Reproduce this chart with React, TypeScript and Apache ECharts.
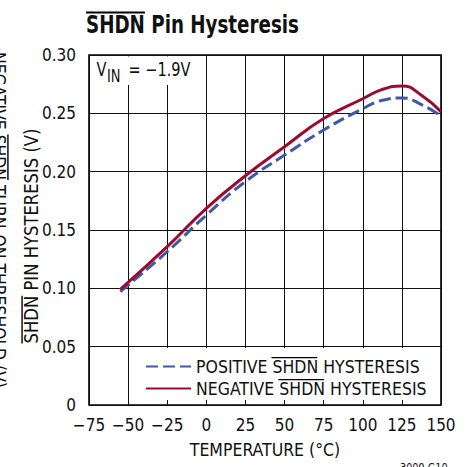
import React, { useEffect, useRef } from "react";
import * as echarts from "echarts";

const temps = [-55, -25, 0, 25, 50, 75, 100, 112.5, 125, 137.5, 150];
const negativeHyst = [0.0991, 0.1357, 0.1686, 0.1965, 0.2214, 0.2455, 0.2625, 0.2705, 0.2735, 0.2655, 0.2513];
const positiveHyst = [0.0971, 0.1314, 0.1628, 0.1915, 0.2142, 0.2357, 0.254, 0.2612, 0.2632, 0.2575, 0.2476];
const seriesNames = ["POSITIVE SHDN HYSTERESIS", "NEGATIVE SHDN HYSTERESIS"];
const xTicks = { min: -75, max: 150, interval: 25 };
const yTicks = { min: 0, max: 0.3, interval: 0.05 };

const FONT = "'DejaVu Sans Condensed', 'Liberation Sans Narrow', sans-serif";

function measure(text: string, size: number, weight = "normal") {
  const c = document.createElement("canvas").getContext("2d")!;
  c.font = `${weight} ${size}px ${FONT}`;
  return c.measureText(text).width;
}

export default function App() {
  const ref = useRef<HTMLDivElement>(null);
  useEffect(() => {
    if (!ref.current) return;
    const chart = echarts.init(ref.current, undefined, { renderer: "svg" });
    const FS = 17;
    const LFS = 17.5;
    const GFS = 19;
    const gcap = GFS * 0.729;
    const lcap = LFS * 0.729;
    const GL = 89, GT = 55, GR = 441, GB = 405;

    // title
    const titleFS = 25;
    const titleX = 86, titleY = 24;
    const titleScale = 213 / measure("SHDN Pin Hysteresis", titleFS, "bold");
    const wTitleS = measure("SHDN", titleFS, "bold") * titleScale;

    // legend
    const legLeft = 145, legTop = 355.5, rowH = 22;
    const textX = legLeft + 45 + 5;
    const row1 = legTop + rowH / 2, row2 = row1 + rowH;
    const wPos = measure("POSITIVE ", LFS), wNeg = measure("NEGATIVE ", LFS), wS = measure("SHDN", LFS);

    // inner y title
    const yTitle = "SHDN PIN HYSTERESIS (V)";
    const yTitleX = 31.5, yTitleY = 236;
    const yScale = 215 / measure(yTitle, GFS);
    const wYT = measure(yTitle, GFS) * yScale;
    const yStart = yTitleY + wYT / 2;
    const wYS = measure("SHDN", GFS) * yScale;

    // outer cut text
    const outer = "NEGATIVE SHDN TURN-ON THRESHOLD (V)";
    const outerX = -1.5, outerY = 220;
    const oScale = 336 / measure(outer, GFS);
    const wOut = measure(outer, GFS) * oScale;
    const outStart = outerY - wOut / 2;
    const wON = measure("NEGATIVE ", GFS) * oScale;
    const wOS = measure("SHDN", GFS) * oScale;

    const vScale = 0.85;

    const ol = (x1: number, y1: number, x2: number, y2: number, w = 1.4) => ({
      type: "line",
      shape: { x1, y1, x2, y2 },
      style: { stroke: "#000", lineWidth: w },
      z: 10,
    });

    chart.setOption({
      animation: false,
      backgroundColor: "#fff",
      textStyle: { fontFamily: FONT },
      grid: {
        left: GL, top: GT, right: 469 - GR, bottom: 467 - GB,
        show: true, borderColor: "#000", borderWidth: 1.6, backgroundColor: "transparent",
      },
      xAxis: {
        type: "value",
        min: xTicks.min, max: xTicks.max, interval: xTicks.interval,
        name: "TEMPERATURE (°C)",
        nameLocation: "middle",
        nameGap: 36,
        nameTextStyle: { fontSize: LFS, color: "#111", fontFamily: FONT },
        axisLine: { show: false },
        axisTick: { show: false },
        axisLabel: {
          fontSize: FS, color: "#111", margin: 11, fontFamily: FONT,
          formatter: (v: number) => (v < 0 ? "\u2212" + Math.abs(v) : String(v)),
        },
        splitLine: { show: true, lineStyle: { color: "#111", width: 1 } },
      },
      yAxis: {
        type: "value",
        min: yTicks.min, max: yTicks.max, interval: yTicks.interval,
        axisLine: { show: false },
        axisTick: { show: false },
        axisLabel: {
          fontSize: FS, color: "#111", margin: 13, fontFamily: FONT,
          formatter: (v: number) => (v === 0 ? "0" : v.toFixed(2)),
        },
        splitLine: { show: true, lineStyle: { color: "#111", width: 1 } },
      },
      legend: {
        orient: "vertical",
        left: legLeft, top: legTop,
        padding: 0,
        itemGap: 0,
        itemWidth: 45, itemHeight: 14,
        itemStyle: { opacity: 0 },
        textStyle: { fontSize: LFS, color: "#111", lineHeight: rowH, fontFamily: FONT },
        data: seriesNames,
        z: 20,
      },
      graphic: [
        { type: "rect", shape: { x: 90, y: 56.5, width: 100, height: 28.5 }, style: { fill: "#fff" }, z: 1 },
        { type: "rect", shape: { x: 135, y: 348, width: 304.5, height: 52 }, style: { fill: "#fff" }, z: 1 },
        { type: "text", x: 96.5, y: 69.5, scaleX: vScale, style: { text: "V", fontSize: GFS, fontFamily: FONT, fill: "#111", verticalAlign: "middle", align: "left" }, z: 10 },
        { type: "text", x: 107, y: 76, scaleX: vScale, style: { text: "IN", fontSize: 17, fontFamily: FONT, fill: "#111", verticalAlign: "middle", align: "left" }, z: 10 },
        { type: "text", x: 128.5, y: 69.5, scaleX: vScale, style: { text: "= \u22121.9V", fontSize: GFS, fontFamily: FONT, fill: "#111", verticalAlign: "middle", align: "left" }, z: 10 },
        { type: "text", x: titleX, y: titleY, scaleX: titleScale, style: { text: "SHDN Pin Hysteresis", fontSize: titleFS, fontWeight: "bold", fontFamily: FONT, fill: "#111", verticalAlign: "middle", align: "left" }, z: 10 },
        ol(titleX, 12.5, titleX + wTitleS, 12.5, 2),
        ol(textX + wPos, row1 - lcap / 2 - 2.5, textX + wPos + wS, row1 - lcap / 2 - 2.5),
        ol(textX + wNeg, row2 - lcap / 2 - 2.5, textX + wNeg + wS, row2 - lcap / 2 - 2.5),
        { type: "text", x: yTitleX, y: yTitleY, rotation: Math.PI / 2, scaleX: yScale, style: { text: yTitle, fontSize: GFS, fontFamily: FONT, fill: "#111", verticalAlign: "middle", align: "center" }, z: 10 },
        ol(yTitleX - gcap / 2 - 2.5, yStart, yTitleX - gcap / 2 - 2.5, yStart - wYS),
        { type: "text", x: outerX, y: outerY, rotation: -Math.PI / 2, scaleX: oScale, style: { text: outer, fontSize: GFS, fontFamily: FONT, fill: "#111", verticalAlign: "middle", align: "center" }, z: 10 },
        ol(outerX + gcap / 2 + 2.5, outStart + wON, outerX + gcap / 2 + 2.5, outStart + wON + wOS),
        { type: "text", x: 400, y: 468, scaleX: 0.9, style: { text: "3009 G10", fontSize: 12, fontFamily: FONT, fill: "#111", verticalAlign: "middle", align: "left" }, z: 10 },
      ],
      series: [
        {
          name: seriesNames[0],
          type: "line",
          data: temps.map((t, i) => [t, positiveHyst[i]]),
          smooth: 0.5,
          showSymbol: false,
          symbol: "none",
          lineStyle: { color: "#3d5aa8", width: 3, type: [12, 5] },
          itemStyle: { color: "#3d5aa8" },
          z: 3,
        },
        {
          name: seriesNames[1],
          type: "line",
          data: temps.map((t, i) => [t, negativeHyst[i]]),
          smooth: 0.5,
          showSymbol: false,
          symbol: "none",
          lineStyle: { color: "#9b0a2f", width: 3 },
          itemStyle: { color: "#9b0a2f" },
          z: 4,
        },
      ],
    });
    return () => chart.dispose();
  }, []);
  return <div ref={ref} style={{ width: 469, height: 467, position: "absolute", left: 0, top: 0 }} />;
}
